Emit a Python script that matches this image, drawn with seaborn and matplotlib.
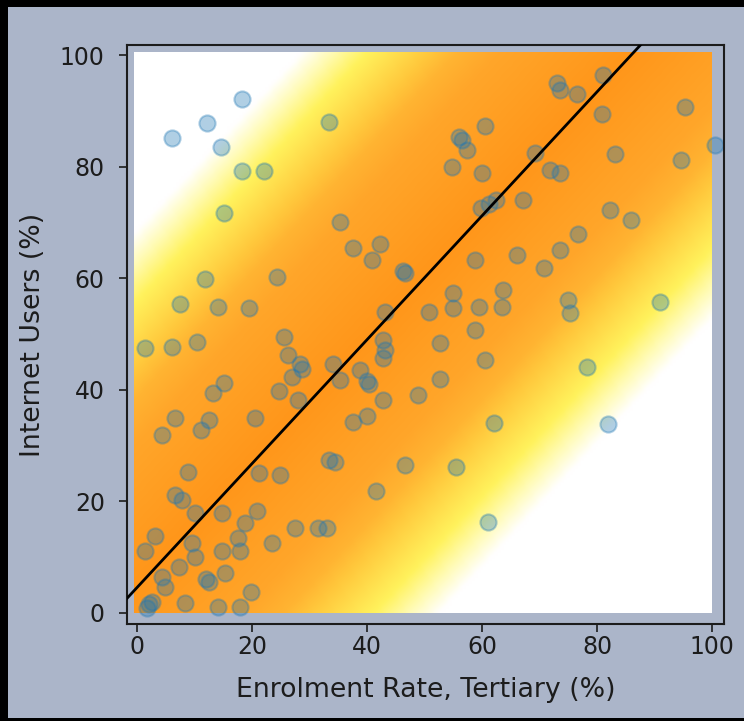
import numpy as np
import pandas as pd
import matplotlib
matplotlib.use("Agg")
import matplotlib.pyplot as plt
from matplotlib.colors import LinearSegmentedColormap
from matplotlib.patches import Rectangle
import seaborn as sns

# Tertiary enrolment rate (%) and share of internet users (%) per country
enrolment = [
    18.2, 12.1, 6.0, 14.6, 18.2, 22.0, 15.0, 33.3, 11.7, 24.3,
    7.5, 14.0, 19.5, 1.4, 6.0, 10.4, 25.6, 26.2, 28.3, 28.6,
    26.9, 24.6, 28.0, 15.0, 13.1, 20.5, 6.6, 4.3, 12.4, 11.0,
    8.9, 6.6, 7.8, 10.1, 14.7, 20.8, 18.8, 3.1, 1.4, 9.5,
    10.1, 14.7, 17.6, 17.9, 23.4, 27.5, 31.5, 7.2, 4.9, 12.4,
    12.0, 15.3, 19.7, 2.6, 2.0, 1.7, 8.3, 14.1, 17.9, 4.3,
    21.1, 24.9, 33.3,
    35.3, 37.6, 42.3, 40.9, 46.3, 46.5, 58.8, 66.0, 43.1, 50.7,
    55.0, 55.0, 59.4, 63.7, 63.4, 58.8, 42.8, 43.1, 42.8, 52.7,
    60.5, 34.1, 35.3, 39.9, 40.3, 38.8, 42.8, 48.9, 52.7, 37.6,
    39.9, 62.0, 34.4, 46.6, 55.4, 41.5, 61.0, 33.0,
    60.5, 56.5, 57.3, 54.8, 59.9, 59.8, 61.2, 62.5, 67.2, 73.0,
    73.6, 76.5, 81.1, 80.8, 95.3, 100.5, 83.1, 94.7, 69.2, 71.8,
    73.6, 82.3, 86.0, 76.7, 73.6, 70.7, 75.0, 75.3, 91.0, 78.2,
    81.9, 56.0,
]
internet_users = [
    92.1, 87.9, 85.1, 83.6, 79.2, 79.2, 71.6, 88.0, 59.8, 60.2,
    55.3, 54.9, 54.6, 47.4, 47.7, 48.6, 49.5, 46.2, 44.7, 43.8,
    42.3, 39.7, 38.2, 41.2, 39.4, 34.9, 34.9, 31.9, 34.6, 32.8,
    25.3, 21.1, 20.3, 17.9, 17.9, 18.2, 16.1, 13.7, 11.0, 12.5,
    10.1, 11.0, 13.4, 11.0, 12.5, 15.2, 15.2, 8.3, 4.7, 5.6,
    6.0, 7.1, 3.8, 2.0, 1.5, 0.8, 1.7, 1.1, 1.1, 6.5,
    25.0, 24.7, 27.4,
    70.1, 65.4, 66.1, 63.3, 61.2, 61.0, 63.3, 64.2, 54.0, 54.0,
    57.3, 54.6, 54.9, 57.9, 54.9, 50.7, 48.9, 47.1, 45.7, 48.3,
    45.3, 44.7, 41.8, 41.5, 41.0, 43.5, 38.2, 39.1, 41.9, 34.3,
    35.3, 34.0, 27.1, 26.5, 26.2, 21.8, 16.2, 15.2,
    87.2, 84.8, 83.0, 80.0, 78.8, 72.5, 73.3, 74.0, 74.0, 94.9,
    93.7, 93.1, 96.4, 89.5, 90.7, 83.9, 82.3, 81.2, 82.4, 79.4,
    78.8, 72.2, 70.4, 68.0, 65.1, 61.8, 56.1, 53.7, 55.8, 44.0,
    33.8, 85.3,
]

# Least-squares fit shown as the trend line, and half-width of the shaded band
fit_intercept = 4.6
fit_slope = 1.11
band_halfwidth = 67.0

x_ticks = [0, 20, 40, 60, 80, 100]
y_ticks = [0, 20, 40, 60, 80, 100]
x_label = "Enrolment Rate, Tertiary (%)"
y_label = "Internet Users (%)"

df = pd.DataFrame({"enrolment": enrolment, "internet_users": internet_users})

slate = "#abb5c9"
ink = "#1c1c1c"
plt.rcParams["font.family"] = ["DejaVu Sans"]

W, H = 744, 721
fig = plt.figure(figsize=(W / 100, H / 100), dpi=100, facecolor="black")
fig.add_artist(Rectangle((8 / W, 3 / H), (W - 8) / W, (H - 10) / H,
                         transform=fig.transFigure, facecolor=slate,
                         edgecolor="none", zorder=-10))

ax = fig.add_axes([127 / W, 1 - 624 / H, (724 - 127) / W, (624 - 45) / H])
ax.set_facecolor(slate)

# Background: closeness to the fitted line, coloured white -> yellow -> orange
band_cmap = LinearSegmentedColormap.from_list(
    "band",
    [(0.0, "#ffffff"), (0.05, "#ffffff"), (0.14, "#fffbb4"),
     (0.24, "#fff25c"), (0.42, "#ffc83c"), (0.5, "#ffb432"),
     (0.62, "#ffa62a"), (1.0, "#ff961a")],
)
grid = np.linspace(0, 100, 201)
gx, gy = np.meshgrid(grid, grid)
residual = gy - (fit_intercept + fit_slope * gx)
closeness = np.clip(1 - np.abs(residual) / band_halfwidth, 0, 1)
ax.imshow(closeness, origin="lower", extent=(-0.5, 100, 0, 100.5),
          cmap=band_cmap, vmin=0, vmax=1, aspect="auto",
          interpolation="bilinear", zorder=0)

sns.scatterplot(data=df, x="enrolment", y="internet_users", ax=ax,
                color="#1f77b4", alpha=0.35, s=135,
                edgecolor="#1f77b4", linewidth=1.5, zorder=2, legend=False)

ax.axline((0, fit_intercept), slope=fit_slope, color="black", lw=2, zorder=3)

ax.set_xlim(-1.8, 102.1)
ax.set_ylim(-2.0, 101.8)
ax.set_xticks(x_ticks)
ax.set_yticks(y_ticks)
ax.set_xlabel(x_label, fontsize=19.3, color=ink, labelpad=13)
ax.set_ylabel(y_label, fontsize=19.3, color=ink, labelpad=10)
ax.tick_params(axis="both", labelsize=17, colors=ink, length=6, width=1.2)
ax.tick_params(axis="y", pad=10)
ax.tick_params(axis="x", pad=2)
for sp in ax.spines.values():
    sp.set_color(ink)
    sp.set_linewidth(1.5)

fig.savefig("out.png", dpi=100)
